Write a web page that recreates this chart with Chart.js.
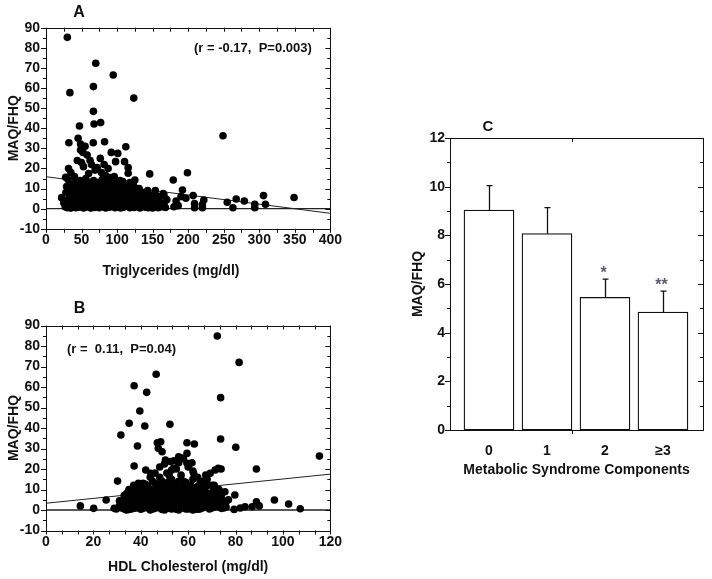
<!DOCTYPE html>
<html>
<head>
<meta charset="utf-8">
<script src="https://cdn.jsdelivr.net/npm/chart.js@4.4.1/dist/chart.umd.min.js"></script>
<style>
  body { margin: 0; background: #fff; width: 712px; height: 579px; position: relative; overflow: hidden; }
  canvas { position: absolute; }
</style>
</head>
<body>
<canvas id="chartA" width="345" height="285" style="left:0;top:0"></canvas>
<canvas id="chartB" width="345" height="289" style="left:0;top:290px"></canvas>
<canvas id="chartC" width="322" height="380" style="left:390px;top:110px"></canvas>
<script>
// Panel A: triglycerides (mg/dl) vs MAQ/FHQ
const trigPoints = [
  [30,85.2],[70,72.3],[94.6,66.5],[66.7,60.7],[33.6,57.7],[123.5,55],[66.7,48.4],[67.6,42.1],[76.9,42.8],[47.1,41.1],
  [32.2,32.8],[45.2,35],[48.6,32.2],[66.5,32.8],[82.4,33.3],[112.3,30.8],[48.6,29.2],[57.9,26.7],[91.8,28],[101,27.5],
  [76.4,25],[97.9,23.4],[110.5,23.4],[115.6,20.4],[31.7,20],[52.7,20.9],[69,19.2],[81.8,22],[87.4,20],[115.6,17.6],
  [145.9,17.3],[125,14.3],[27.6,15.6],[108,13.5],[55,31],[52,28],[62,24],[44,24],[50,23],[64,22],[72,20.5],[78,18],
  [84,16.5],[90,15.5],[60,17.5],[40,16],[96,16],[104,14],[118,13],[35,18],
  [249,36.3],[199,17.9],[179,14.3],[192,9.3],[153.8,9],[166,6.8],[207,6.5],[222,4.3],[255,3.2],[267.6,4.8],
  [279,3.8],[263,0.5],[293.7,2.2],[293.7,0.5],[306,6.5],[308.7,2.2],[349,5.6],[180,1],[183,3.8],[186,1.5],
  [196.8,5.2],[209,2.5],[209,0.5],[220,2],[220,0.5],[190,6],
  [22,5.5],[25,3],[27,1],[28,8],[30,0.5],[30,4],[29,11],[31,14.5],[33,2],[33,6.5],[35,9.5],[35,0.3],[36,12],[37,4],
  [38,1.5],[39,7],[40,10.5],[41,3],[42,0.5],[42,13.5],[43,5.5],[44,8.5],[45,2],[46,11],[47,0.8],[47,4.5],[48,14],
  [49,6.5],[50,1.5],[50,9],[51,3.5],[52,12],[53,0.4],[53,7],[54,5],[55,10],[55,2.5],[56,15],[57,0.9],[57,8],[58,4],
  [59,11.5],[60,1.8],[60,6],[61,13],[62,3],[62,9.5],[63,0.3],[64,5],[64,12.5],[65,7.5],[66,2],[66,10.5],[67,14],
  [68,0.6],[68,4.5],[69,8.5],[70,3],[70,11.5],[71,6],[72,1],[72,13],[73,9],[74,4],[75,0.5],[75,7],[76,12],[77,2.5],
  [77,10],[78,5.5],[79,14.5],[80,1],[80,8],[81,3.5],[82,11],[83,6.5],[84,0.4],[84,9.5],[85,4],[86,13],[87,2],
  [87,7.5],[88,10.5],[89,5],[90,0.8],[90,12],[91,3],[92,8.5],[93,6],[94,1.5],[94,10],[95,4],[96,13.5],[97,0.5],
  [97,7],[98,2.5],[99,9.5],[100,5],[100,11.5],[101,1],[102,3.5],[103,8],[104,12.5],[105,0.4],[105,6],[106,10],
  [107,2],[108,4.5],[109,7.5],[110,0.8],[110,11],[111,3],[112,5.5],[113,9],[114,1.2],[115,6.5],[116,3],[117,10.5],
  [118,0.5],[119,4.5],[120,8],[121,2],[122,6],[123,12],[124,0.6],[125,3.5],[126,9],[127,5],[128,1.5],[129,7],
  [130,3],[131,10],[132,0.4],[133,5],[135,2],[136,8],[138,4],[139,0.8],[140,6],[141,2.5],[143,9],[144,0.5],[145,4],
  [147,1.5],[148,6.5],[150,0.4],[150,3],[152,7],[154,1.2],[155,4.5],[157,2.5],[158,0.5],[160,6],[161,3],[163,1],
  [165,7.5],[166,2.5],[168,0.6],[170,4.5]
];
const trigFit = [15.9, -2.3];   // regression line at x = 0 and x = 400

// Panel B: HDL cholesterol (mg/dl) vs MAQ/FHQ
const hdlPoints = [
  [72.3,84.9],[81.5,72],[46.5,66.2],[37.2,60.6],[42.5,57.4],[73.7,54.8],[39.6,48.3],[35.1,42.3],[41.7,41],[52.3,41.8],
  [31.6,36.6],[38.6,31.2],[47,32.8],[48.4,33.3],[47.4,30.1],[49,28.4],[59.5,32.8],[62.6,32.2],[73.7,34.6],[59.5,27.6],
  [37.2,21.5],[42.1,19.5],[44.2,17.9],[30.2,14.1],[50.4,24.4],[52.5,23.6],[56,26],[53.9,20.3],[59.5,22.8],[61.6,23],
  [62.3,17.9],[67.4,17.1],[69.3,17.9],[71.4,19.5],[72.7,20.3],[39,13],[25.4,4.9],[28.8,0.8],[75.5,8.9],
  [14.5,2],[20.1,0.8],[79.7,7.3],[79.4,0.3],[80.1,30.6],[88.8,20],[88.8,4],[96.4,4.9],[102.4,2.9],[107.3,0.6],
  [115.4,26.3],[73.9,20],[74.4,8.4],[84,1.6],[87,1.6],[90,2],[82,1],[72,10],[71,12],[67,9.5],[67,5.5],[65,1.5],
  [29.7,0.5],[31,4.5],
  [31,2],[32,4.5],[33,0.5],[33,7],[34,2.5],[35,5],[35,0.3],[36,9],[36,3],[37,6.5],[37,0.8],[38,11],[38,4],[39,1.5],
  [39,8],[40,5.5],[40,0.4],[41,13],[41,3],[42,9.5],[42,6],[43,1],[43,11.5],[44,4],[44,7.5],[45,0.5],[45,14],[45,2.5],
  [46,10],[46,5.5],[47,12.5],[47,1.5],[47,8],[48,3.5],[48,16],[49,6],[49,0.3],[49,10.5],[50,13],[50,2],[50,8.5],
  [51,4.5],[51,18],[52,0.8],[52,11],[52,6.5],[53,15],[53,3],[53,9],[54,1.2],[54,12.5],[54,5],[55,7.5],[55,20],
  [55,0.4],[56,10],[56,3.5],[56,14],[57,6],[57,1.5],[57,17],[58,8.5],[58,11.5],[58,3],[59,0.5],[59,5.5],[59,13.5],
  [60,9.5],[60,2],[60,7],[61,12],[61,4],[61,0.8],[62,15],[62,6.5],[62,10],[63,2.5],[63,8],[64,0.4],[64,5],[64,11.5],
  [65,3.5],[65,13],[66,7],[66,1],[67,9.5],[67,4.5],[68,12],[68,2],[69,6],[69,0.5],[70,8.5],[70,3.5],[71,5],[71,1.5],
  [72,7],[72,2.5],[73,4],[74,0.8],[75,3],[76,1.5],[77,5],
  [46,18],[48,21],[50,22.5],[52,17],[54,24],[56,23],[58,25],[60,21],[62,19],[64,16],[66,14],[68,15],[70,12],[73,10],
  [57,25.5],[53,19.5],[44,16],[34,0],[44,0],[50,0],[56,0],[62,0],
  [32,1],[33,3.5],[34,5.5],[34,8],[35,1.5],[35,10],[36,0.5],[36,6],[37,3],[37,12],[38,1],[38,7.5],[39,5],[39,10],
  [40,2.5],[40,8],[40,12],[41,0.8],[41,6],[42,3.5],[42,12.5],[43,7],[43,4.5],[44,1.5],[44,10],[45,5.5],[45,8.5],
  [46,0.8],[46,3],[46,13],[47,5.5],[47,10.5],[48,1],[48,7],[48,12],[49,3],[49,8.5],[49,14],[50,5],[50,11],[51,1.2],
  [51,7],[51,10],[52,3.5],[52,14],[53,0.5],[53,6],[54,8],[54,10],[55,2.5],[55,5],[55,12],[56,0.8],[56,7.5],[57,4],
  [57,10.5],[58,1],[58,6],[58,14],[59,3],[59,9],[60,0.5],[60,4.5],[60,11.5],[61,7],[61,2],[62,4],[62,8.5],[63,0.5],
  [63,5.5],[63,11],[64,3],[64,7],[65,0.5],[65,9],[66,4],[66,11],[67,2],[68,5],[68,8],[69,3],[70,1],[70,6],[71,9],
  [72,4.5],[73,1.5],[74,6],[75,1],[76,4]
];
const hdlFit = [3.3, 17.5];     // regression line at x = 0 and x = 120

// Panel C: metabolic syndrome components
const msCategories = ["0", "1", "2", "\u22653"];
const msMeans = [9.04, 8.07, 5.45, 4.85];
const msErrors = [1.0, 1.07, 0.75, 0.86];
const msMarks = ["", "", "*", "**"];

const FONT = '"Liberation Sans", Arial, Helvetica, sans-serif';
const INK = '#111';
const bold14 = { family: FONT, size: 14, weight: 'bold' };

function steps(min, max, step) {
  const out = [];
  for (let v = min; v <= max + 1e-9; v += step) out.push(v);
  return out;
}

// box around the plot area plus tick marks (outside on left/bottom, inside on top/right)
const framePlugin = {
  id: 'frame',
  afterDraw(chart, args, o) {
    const { ctx, chartArea: a, scales: { x, y } } = chart;
    ctx.save();
    ctx.strokeStyle = INK;
    ctx.lineWidth = 1;
    ctx.strokeRect(Math.round(a.left) + 0.5, Math.round(a.top) + 0.5,
      Math.round(a.right) - Math.round(a.left), Math.round(a.bottom) - Math.round(a.top));
    ctx.beginPath();
    (o.xTicks || []).forEach(([vals, len]) => vals.forEach(v => {
      const p = Math.round(x.getPixelForValue(v)) + 0.5;
      ctx.moveTo(p, a.bottom); ctx.lineTo(p, a.bottom + len);
      ctx.moveTo(p, a.top); ctx.lineTo(p, a.top + len);
    }));
    (o.yTicks || []).forEach(([vals, len]) => vals.forEach(v => {
      const p = Math.round(y.getPixelForValue(v)) + 0.5;
      ctx.moveTo(a.left - len, p); ctx.lineTo(a.left, p);
      ctx.moveTo(a.right - len, p); ctx.lineTo(a.right, p);
    }));
    ctx.stroke();
    ctx.restore();
  }
};

// panel letters and r / P annotations
const textPlugin = {
  id: 'panelText',
  afterDraw(chart, args, o) {
    const ctx = chart.ctx;
    ctx.save();
    ctx.fillStyle = INK;
    ctx.textBaseline = 'middle';
    (o.items || []).forEach(t => {
      ctx.font = 'bold ' + t.size + 'px ' + FONT;
      ctx.textAlign = t.align || 'left';
      ctx.fillText(t.text, t.x, t.y);
    });
    ctx.restore();
  }
};

// error bars (upper only) and significance stars for panel C
const errorPlugin = {
  id: 'errorBars',
  afterDatasetsDraw(chart) {
    const { ctx, scales: { x, y } } = chart;
    ctx.save();
    ctx.strokeStyle = INK;
    ctx.lineWidth = 1.3;
    msMeans.forEach((m, i) => {
      const px = Math.round(x.getPixelForValue(i)) + 0.5;
      const top = y.getPixelForValue(m);
      const end = y.getPixelForValue(m + msErrors[i]);
      ctx.beginPath();
      ctx.moveTo(px, top); ctx.lineTo(px, end);
      ctx.moveTo(px - 3, end); ctx.lineTo(px + 3, end);
      ctx.stroke();
      if (msMarks[i]) {
        ctx.fillStyle = '#5a5d70';
        ctx.font = 'bold 16px ' + FONT;
        ctx.textAlign = 'center';
        ctx.textBaseline = 'alphabetic';
        ctx.fillText(msMarks[i], px - 2, end - 1);
      }
    });
    ctx.restore();
  }
};

function scatterChart(id, points, fit, xMax, xStep, xMinor, box, texts, xTitle) {
  const xAxisTitle = xTitle.custom ? { display: false } :
    { display: true, text: xTitle.text, font: bold14, color: INK, padding: { top: 0, bottom: xTitle.pad } };
  return new Chart(document.getElementById(id), {
    type: 'scatter',
    data: {
      datasets: [
        {
          data: points.map(([x, y]) => ({ x, y })),
          backgroundColor: '#000',
          borderWidth: 0,
          pointRadius: 3.8
        },
        {
          type: 'line',
          data: [{ x: 0, y: fit[0] }, { x: xMax, y: fit[1] }],
          borderColor: '#222',
          borderWidth: 1,
          pointRadius: 0
        },
        {
          type: 'line',
          data: [{ x: 0, y: 0 }, { x: xMax, y: 0 }],
          borderColor: '#222',
          borderWidth: 1.3,
          pointRadius: 0
        }
      ]
    },
    options: {
      responsive: false,
      animation: false,
      layout: { padding: { top: box.top, right: box.right, left: 0, bottom: 0 } },
      plugins: {
        legend: { display: false },
        tooltip: { enabled: false },
        frame: {
          xTicks: [[steps(0, xMax, xMinor), 4]],
          yTicks: [[steps(-10, 90, 10), 5], [steps(-5, 85, 10), 3]]
        },
        panelText: { items: texts }
      },
      scales: {
        x: {
          type: 'linear', min: 0, max: xMax,
          ticks: { stepSize: xStep, padding: 3, font: bold14, color: INK, maxRotation: 0, autoSkip: false },
          grid: { display: false, drawTicks: false },
          border: { display: false },
          title: xAxisTitle,
          afterFit: s => { s.height = box.xHeight; }
        },
        y: {
          min: -10, max: 90,
          ticks: { stepSize: 10, padding: 6, font: bold14, color: INK },
          grid: { display: false, drawTicks: false },
          border: { display: false },
          title: { display: true, text: 'MAQ/FHQ', font: bold14, color: INK, padding: { top: 5.3, bottom: 0 } },
          afterFit: s => { s.width = 46; }
        }
      }
    },
    plugins: [framePlugin, textPlugin]
  });
}

scatterChart('chartA', trigPoints, trigFit, 400, 50, 25,
  { top: 27.7, right: 12, xHeight: 56.2 },
  [
    { text: 'A', x: 79, y: 13, size: 16, align: 'center' },
    { text: '(r = -0.17,  P=0.003)', x: 194, y: 48, size: 13 },
    { text: 'Triglycerides (mg/dl)', x: 171, y: 271, size: 14, align: 'center' }
  ],
  { custom: true });

scatterChart('chartB', hdlPoints, hdlFit, 120, 20, 20 / 3,
  { top: 35.5, right: 12, xHeight: 48.5 },
  [
    { text: 'B', x: 79.5, y: 19, size: 16, align: 'center' },
    { text: '(r =  0.11,  P=0.04)', x: 67, y: 59, size: 13 }
  ],
  { text: 'HDL Cholesterol (mg/dl)', pad: 3.6 });

new Chart(document.getElementById('chartC'), {
  type: 'bar',
  data: {
    datasets: [{
      data: msMeans.map((v, i) => ({ x: i, y: v })),
      backgroundColor: '#fff',
      borderColor: INK,
      borderWidth: 1.3,
      borderSkipped: false,
      barThickness: 50
    }]
  },
  options: {
    responsive: false,
    animation: false,
    layout: { padding: { top: 28, right: 9, left: 0, bottom: 0 } },
    plugins: {
      legend: { display: false },
      tooltip: { enabled: false },
      frame: {
        xTicks: [[[1.43], 4]],
        yTicks: [[steps(0, 12, 2), 5], [steps(1, 11, 2), 3]]
      },
      panelText: { items: [{ text: 'C', x: 98, y: 17, size: 15, align: 'center' }] }
    },
    scales: {
      x: {
        type: 'linear', min: -0.672, max: 3.69, offset: false,
        afterBuildTicks: axis => { axis.ticks = msCategories.map((c, i) => ({ value: i })); },
        ticks: { callback: v => msCategories[v], padding: 13, font: bold14, color: INK, maxRotation: 0, autoSkip: false },
        grid: { display: false, drawTicks: false, offset: false },
        border: { display: false },
        title: { display: true, text: 'Metabolic Syndrome Components', font: bold14, color: INK, padding: { top: 0, bottom: 11.6 } },
        afterFit: s => { s.height = 60; }
      },
      y: {
        min: 0, max: 12,
        ticks: { stepSize: 2, padding: 5, font: bold14, color: INK },
        grid: { display: false, drawTicks: false },
        border: { display: false },
        title: { display: true, text: 'MAQ/FHQ', font: bold14, color: INK, padding: { top: 19.6, bottom: 0 } },
        afterFit: s => { s.width = 60; }
      }
    }
  },
  plugins: [framePlugin, textPlugin, errorPlugin]
});
</script>
</body>
</html>
